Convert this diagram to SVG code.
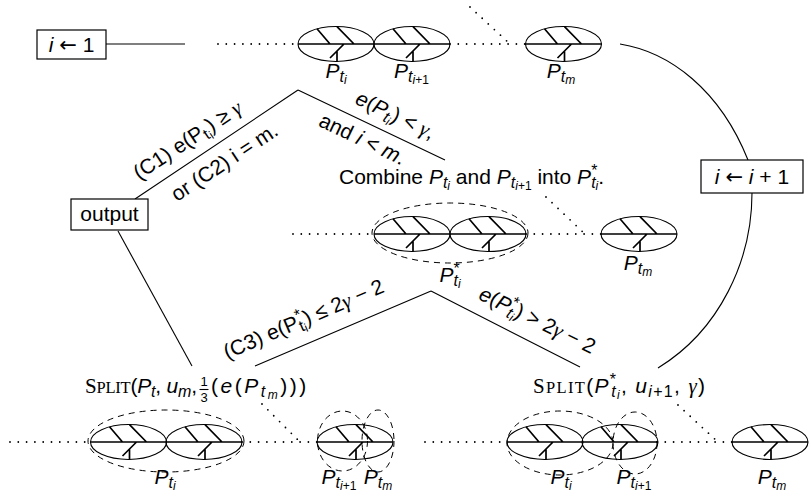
<svg xmlns="http://www.w3.org/2000/svg" width="809" height="494" viewBox="0 0 809 494">
<style>
  text { font-family: "Liberation Sans", Arial, sans-serif; font-size: 21px; fill: #000; }
  .it { font-style: italic; }
  .gr { font-family: "Liberation Serif", "Times New Roman", serif; font-style: italic; }
  .sc { font-family: "Liberation Serif", "Times New Roman", serif; }
  .ar { font-family: "DejaVu Sans", sans-serif; }
  .s1 { font-size: 16px; }
  .s2 { font-size: 12px; }
  .fr { font-size: 13px; }
  .ln { fill: none; stroke: #000; stroke-width: 1.1; }
  .dot { fill: none; stroke: #000; stroke-width: 1.8; stroke-linecap: round; stroke-dasharray: 0 8.3; }
  .dash { fill: none; stroke: #000; stroke-width: 1; stroke-dasharray: 6 5; }
  .box { fill: #fff; stroke: #000; stroke-width: 1.2; }
  .shell { fill: none; stroke: #000; stroke-width: 1.1; }
  .bone { fill: none; stroke: #000; stroke-width: 1.7; }
</style>
<defs>
  <!-- one part: outline plus spine and ribs -->
  <g id="part">
    <ellipse class="shell" rx="38" ry="17.5"/>
    <path class="bone" d="M-38,0H38M-19,-15.2L-6,0M1,-17.4L18,0M8,0L-6,14M1,7V17.4"/>
  </g>
</defs>

<rect width="809" height="494" fill="#fff"/>

<!-- connectors and their labels -->
<g id="connectors">
  <path class="ln" d="M106,44H185"/>
  <path class="ln" d="M298,90L135,199M298,90L445,160"/>
  <path class="ln" d="M118,231L192,366"/>
  <path class="ln" d="M431,291L255,366M431,291L580,367"/>
  <path class="ln" d="M620,44C670,52 720,90 748,160"/>
  <path class="ln" d="M752,193C752,260 720,330 658,368"/>

  <path class="dot" d="M218,44H298M450,44H525M470,7L510,44"/>
  <path class="dot" d="M293,234H374M526,234H601M546,197L585,234"/>
  <path class="dot" d="M10,442H91M242,442H317M262,404L300,442M425,442H507M657,442H733M678,405L718,442"/>

  <text transform="translate(188,141) rotate(-33.5)" text-anchor="middle" y="6">(C1) e(P<tspan class="s1" dy="4">t</tspan><tspan class="s2" dy="2">i</tspan><tspan dy="-6">) ≥ </tspan><tspan class="gr">γ</tspan></text>
  <text transform="translate(225,163) rotate(-33.5)" text-anchor="middle" y="6">or (C2) i = m.</text>
  <text transform="translate(395,116) rotate(25.5)" text-anchor="middle" y="6"><tspan class="it">e</tspan>(<tspan class="it">P</tspan><tspan class="s1 it" dy="4">t</tspan><tspan class="s2 it" dy="2">i</tspan><tspan dy="-6">) &lt; </tspan><tspan class="gr">γ</tspan>,</text>
  <text transform="translate(362,140) rotate(25.5)" text-anchor="middle" y="6">and <tspan class="it">i</tspan> &lt; <tspan class="it">m</tspan>.</text>
  <text transform="translate(304,320) rotate(-23.2)" text-anchor="middle" y="6">(C3) e(P<tspan class="s1" dy="-8">*</tspan><tspan class="s1" dx="-6.2" dy="12">t</tspan><tspan class="s2" dy="2">i</tspan><tspan dy="-6">) ≤ 2</tspan><tspan class="gr">γ</tspan> − 2</text>
  <text transform="translate(537,321) rotate(26)" text-anchor="middle" y="6"><tspan class="it">e</tspan>(<tspan class="it">P</tspan><tspan class="s1" dy="-8">*</tspan><tspan class="s1 it" dx="-6.2" dy="12">t</tspan><tspan class="s2 it" dy="2">i</tspan><tspan dy="-6">) &gt; 2</tspan><tspan class="gr">γ</tspan> − 2</text>

  <text x="339" y="184">Combine <tspan class="it">P</tspan><tspan class="s1 it" dy="4">t</tspan><tspan class="s2 it" dy="2">i</tspan><tspan dy="-6"> and </tspan><tspan class="it">P</tspan><tspan class="s1 it" dy="4">t</tspan><tspan class="s2" dy="2"><tspan class="it">i</tspan>+1</tspan><tspan dy="-6"> into </tspan><tspan class="it">P</tspan><tspan class="s1" dy="-8">*</tspan><tspan class="s1 it" dx="-6.2" dy="12">t</tspan><tspan class="s2 it" dy="2">i</tspan><tspan dy="-6">.</tspan></text>
</g>

<!-- boxes -->
<g id="init">
  <rect class="box" x="37" y="30" width="69" height="29"/>
  <text x="71.5" y="52" text-anchor="middle"><tspan class="it">i</tspan> <tspan class="ar">←</tspan> 1</text>
</g>
<g id="output">
  <rect class="box" x="71" y="199" width="77" height="31"/>
  <text x="109.5" y="221" text-anchor="middle">output</text>
</g>
<g id="increment">
  <rect class="box" x="701" y="160" width="102" height="33"/>
  <text x="752" y="184" text-anchor="middle"><tspan class="it">i</tspan> <tspan class="ar">←</tspan> <tspan class="it">i</tspan> + 1</text>
</g>

<!-- top row -->
<g id="top-ti">
  <use href="#part" x="336" y="44"/>
  <text x="336" y="78" text-anchor="middle"><tspan class="it">P</tspan><tspan class="s1 it" dy="4">t</tspan><tspan class="s2 it" dy="2">i</tspan></text>
</g>
<g id="top-ti1">
  <use href="#part" x="412" y="44"/>
  <text x="411.5" y="78" text-anchor="middle"><tspan class="it">P</tspan><tspan class="s1 it" dy="4">t</tspan><tspan class="s2" dy="2"><tspan class="it">i</tspan>+1</tspan></text>
</g>
<g id="top-tm">
  <use href="#part" x="563.5" y="44"/>
  <text x="561" y="78" text-anchor="middle"><tspan class="it">P</tspan><tspan class="s1 it" dy="4">t</tspan><tspan class="s2 it" dy="2">m</tspan></text>
</g>

<!-- middle row -->
<g id="mid-merged">
  <ellipse class="dash" cx="450" cy="233" rx="78" ry="30"/>
  <use href="#part" x="412" y="234"/>
  <use href="#part" x="488" y="234"/>
  <text x="450" y="282" text-anchor="middle"><tspan class="it">P</tspan><tspan class="s1" dy="-8">*</tspan><tspan class="s1 it" dx="-6.2" dy="12">t</tspan><tspan class="s2 it" dy="2">i</tspan></text>
</g>
<g id="mid-tm">
  <use href="#part" x="639" y="234"/>
  <text x="638" y="270" text-anchor="middle"><tspan class="it">P</tspan><tspan class="s1 it" dy="4">t</tspan><tspan class="s2 it" dy="2">m</tspan></text>
</g>

<!-- split calls -->
<g id="split-left">
  <text x="85" y="393" textLength="112" lengthAdjust="spacing"><tspan class="sc">S</tspan><tspan class="sc" font-size="16.5">PLIT</tspan>(<tspan class="it">P</tspan><tspan class="s1 it" dy="4">t</tspan><tspan dy="-4">, </tspan><tspan class="it">u</tspan><tspan class="s1 it" dy="4">m</tspan><tspan dy="-4">,</tspan></text>
  <text class="fr" x="204" y="386" text-anchor="middle">1</text>
  <path class="ln" d="M199.5,389.5H208.5" stroke-width="0.9"/>
  <text class="fr" x="204" y="402" text-anchor="middle">3</text>
  <text x="211" y="393" font-size="22" letter-spacing="2.5">(<tspan class="it">e</tspan>(<tspan class="it">P</tspan><tspan class="s1 it" dy="4">t</tspan><tspan class="s2 it" dy="2">m</tspan><tspan dy="-6">)))</tspan></text>
</g>
<g id="split-right">
  <text x="533" y="393" textLength="172" lengthAdjust="spacing"><tspan class="sc">S</tspan><tspan class="sc" font-size="16.5">PLIT</tspan>(<tspan class="it">P</tspan><tspan class="s1" dy="-8">*</tspan><tspan class="s1 it" dx="-6.2" dy="12">t</tspan><tspan class="s2 it" dy="2">i</tspan><tspan dy="-6">, </tspan><tspan class="it">u</tspan><tspan class="s1" dy="4"><tspan class="it">i</tspan>+1</tspan><tspan dy="-4">, </tspan><tspan class="gr">γ</tspan>)</text>
</g>

<!-- bottom row, left result -->
<g id="bot-ti">
  <ellipse class="dash" cx="166" cy="441" rx="78" ry="31"/>
  <use href="#part" x="128.5" y="442"/>
  <use href="#part" x="204" y="442"/>
  <text x="165" y="484" text-anchor="middle"><tspan class="it">P</tspan><tspan class="s1 it" dy="4">t</tspan><tspan class="s2 it" dy="2">i</tspan></text>
</g>
<g id="bot-tm-split">
  <use href="#part" x="355" y="442"/>
  <ellipse class="dash" cx="342.5" cy="441" rx="25" ry="30"/>
  <ellipse class="dash" cx="378" cy="441" rx="16" ry="31"/>
  <text x="339" y="484" text-anchor="middle"><tspan class="it">P</tspan><tspan class="s1 it" dy="4">t</tspan><tspan class="s2" dy="2"><tspan class="it">i</tspan>+1</tspan></text>
  <text x="378" y="484" text-anchor="middle"><tspan class="it">P</tspan><tspan class="s1 it" dy="4">t</tspan><tspan class="s2 it" dy="2">m</tspan></text>
</g>

<!-- bottom row, right result -->
<g id="bot-right-split">
  <use href="#part" x="545" y="442"/>
  <use href="#part" x="620" y="442"/>
  <ellipse class="dash" cx="560" cy="443" rx="53" ry="32"/>
  <ellipse class="dash" cx="635" cy="443" rx="22" ry="31"/>
  <text x="561" y="484" text-anchor="middle"><tspan class="it">P</tspan><tspan class="s1 it" dy="4">t</tspan><tspan class="s2 it" dy="2">i</tspan></text>
  <text x="634" y="484" text-anchor="middle"><tspan class="it">P</tspan><tspan class="s1 it" dy="4">t</tspan><tspan class="s2" dy="2"><tspan class="it">i</tspan>+1</tspan></text>
</g>
<g id="bot-tm">
  <use href="#part" x="770" y="442"/>
  <text x="772" y="484" text-anchor="middle"><tspan class="it">P</tspan><tspan class="s1 it" dy="4">t</tspan><tspan class="s2 it" dy="2">m</tspan></text>
</g>
</svg>
